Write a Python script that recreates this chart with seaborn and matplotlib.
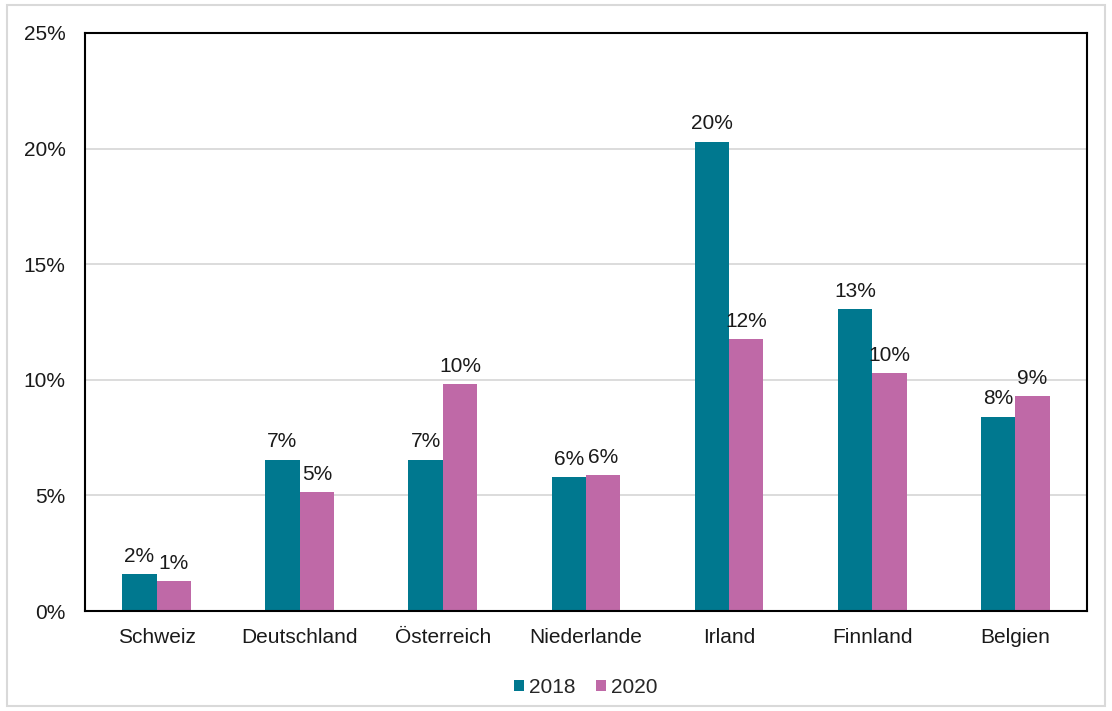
import pandas as pd
import seaborn as sns
import matplotlib.pyplot as plt
from matplotlib.patches import Rectangle
from matplotlib.ticker import PercentFormatter

# Data (share in percent)
countries = ['Schweiz', 'Deutschland', 'Österreich', 'Niederlande', 'Irland', 'Finnland', 'Belgien']
values_2018 = [1.6, 6.55, 6.55, 5.8, 20.3, 13.06, 8.4]
values_2020 = [1.3, 5.15, 9.82, 5.88, 11.76, 10.3, 9.3]
years = ['2018', '2020']
colors = ['#00788F', '#BF69A7']

df = pd.DataFrame({
    'Land': countries * 2,
    'Anteil': values_2018 + values_2020,
    'Jahr': [years[0]] * len(countries) + [years[1]] * len(countries),
})

sns.set_theme(style='white')
plt.rcParams['font.family'] = ['Liberation Sans', 'DejaVu Sans']

fig = plt.figure(figsize=(11.12, 7.11), dpi=100)
ax = fig.add_axes([0.0764, 0.1406, 0.9011, 0.8130])

sns.barplot(data=df, x='Land', y='Anteil', hue='Jahr', palette=colors,
            width=0.48, saturation=1, linewidth=0, ax=ax, legend=True)

ax.set_ylim(0, 25)
ax.set_yticks(range(0, 26, 5))
ax.yaxis.set_major_formatter(PercentFormatter(decimals=0))
ax.grid(axis='y', color='#d9d9d9', linewidth=1.3)
ax.set_axisbelow(True)
for s in ax.spines.values():
    s.set_color('black')
    s.set_linewidth(1.5)
ax.set_xlabel('')
ax.set_ylabel('')
ax.tick_params(axis='both', labelsize=15, colors='#1a1a1a', length=0)
ax.tick_params(axis='x', pad=12)
ax.tick_params(axis='y', pad=14)

for cont in ax.containers:
    ax.bar_label(cont, labels=[f'{v:.0f}%' for v in cont.datavalues],
                 padding=6, fontsize=15, color='#1a1a1a')

leg = ax.legend(loc='upper center', bbox_to_anchor=(0.5, -0.083), ncol=2,
                frameon=False, fontsize=15, handlelength=0.45, handleheight=0.45,
                handletextpad=0.25, columnspacing=1.0)

# light grey frame around the whole chart
fig.patches.append(Rectangle((0.0063, 0.007), 0.987, 0.986, transform=fig.transFigure,
                             fill=False, edgecolor='#d9d9d9', linewidth=1.5))

fig.savefig('out.png', dpi=100)
